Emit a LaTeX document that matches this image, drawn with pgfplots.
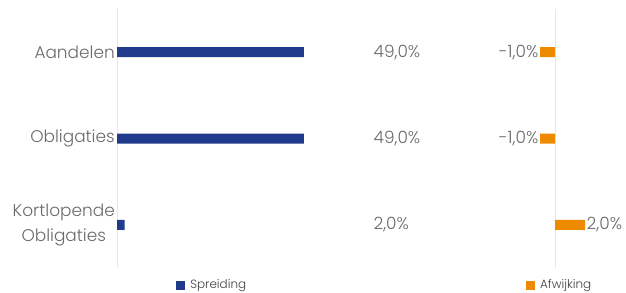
\documentclass[border=0pt]{standalone}
\usepackage{pgfplots}
\pgfplotsset{compat=1.18}
\usepackage{fontspec}
\IfFontExistsTF{Poppins Light}{\setmainfont{Poppins Light}}{\setmainfont{Poppins}}
\definecolor{navy}{HTML}{203A8C}
\definecolor{orng}{HTML}{EE8A00}
\definecolor{txt}{HTML}{6A6A6A}
\definecolor{gridc}{HTML}{E6E6E6}
\begin{document}
\begin{tikzpicture}
\path[use as bounding box] (0,0) rectangle (626bp,293bp);
\pgfplotsset{
  common/.style={
    scale only axis, height=259bp, ymin=-0.5, ymax=2.5, y dir=reverse,
    axis line style={draw=none}, major tick length=0pt,
    xtick=\empty, extra x ticks={0}, extra x tick labels={},
    extra x tick style={grid=major, major grid style={gridc, line width=0.8pt}},
    clip=false,
    legend style={draw=none, fill=none, font=\fontsize{12}{14}\selectfont, text=black!75, inner sep=0pt,
      /tikz/every odd column/.append style={column sep=3bp}},
    legend cell align=left,
    legend image code/.code={\fill[##1] (0bp,-4.5bp) rectangle (9bp,4.5bp);},
  },
  lbl/.style={forget plot, only marks, mark=*, mark size=0pt,
    mark options={draw opacity=0, fill opacity=0},
    nodes near coords, point meta=explicit symbolic,
    nodes near coords style={font=\fontsize{17}{20}\selectfont, text=txt, inner sep=1.5bp, anchor=#1, opacity=1, text opacity=1}},
}
\begin{axis}[common, at={(117bp,25bp)}, anchor=south west, width=187bp, xmin=0, xmax=49,
  ytick={0,1,2}, yticklabels={Aandelen, Obligaties, {Kortlopende\\Obligaties}},
  yticklabel style={align=center, font=\fontsize{17}{25}\selectfont, text=txt, inner sep=2bp},
  legend style={at={(0.316,-0.066)}, anchor=west}]
\addplot[xbar, bar width=10bp, fill=navy, draw=none] coordinates {(49,0) (49,1) (2,2)};
\addlegendentry{Spreiding}
\addplot[lbl=west] coordinates {(66.8,0) [49,0\%] (66.8,1) [49,0\%] (66.8,2) [2,0\%]};
\end{axis}
\begin{axis}[common, at={(540bp,25bp)}, anchor=south west, width=45bp, xmin=-1, xmax=2,
  ytick=\empty,
  legend style={at={(-0.311,-0.066)}, anchor=west}]
\addplot[xbar, bar width=10bp, fill=orng, draw=none] coordinates {(-1,0) (-1,1) (2,2)};
\addlegendentry{Afwijking}
\addplot[lbl=east] coordinates {(-1,0) [-1,0\%] (-1,1) [-1,0\%]};
\addplot[lbl=west] coordinates {(2,2) [2,0\%]};
\end{axis}
\end{tikzpicture}
\end{document}
